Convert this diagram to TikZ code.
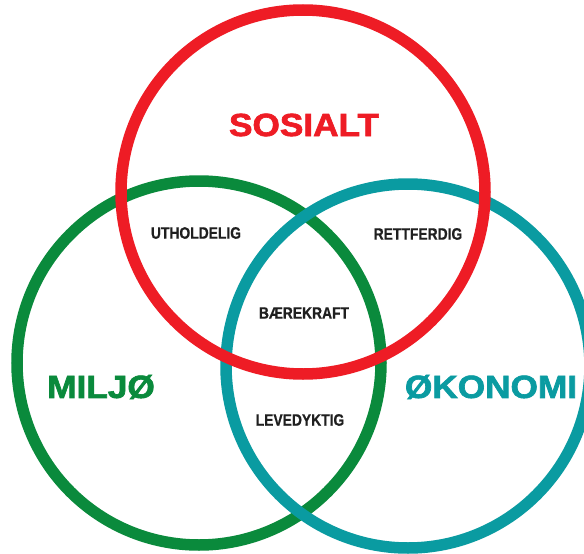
\documentclass[tikz,border=0pt]{standalone}
\usepackage{fontspec}
\setmainfont{Liberation Sans}
\newfontfamily\heavyfont[FakeBold=2]{Liberation Sans Bold}
\newfontfamily\semiheavyfont[FakeBold=0.8]{Liberation Sans Bold}
\definecolor{vred}{HTML}{EE1C25}
\definecolor{vgreen}{HTML}{0A8A3C}
\definecolor{vteal}{HTML}{0A9BA1}
\begin{document}
\begin{tikzpicture}[x=1pt,y=-1pt,
  ring/.style={line width=11.5pt},
  bigtxt/.style={font=\fontsize{32}{32}\heavyfont, inner sep=0pt, xscale=1.1},
  smalltxt/.style={font=\fontsize{16.5}{16.5}\semiheavyfont, text=black!88, inner sep=0pt, xscale=0.84}]
\useasboundingbox (0,0) rectangle (584,554);
\fill[white] (0,0) rectangle (584,554);
\coordinate (cg) at (199,363);
\coordinate (ct) at (408,366);
\coordinate (cr) at (303,192);
\draw[ring, vgreen] (cg) circle[radius=182];
\draw[ring, vteal] (ct) circle[radius=182];
\draw[ring, vred] (cr) circle[radius=182];
\node[bigtxt, text=vred] (sos) at (304,125) {SOSIALT};
\node[bigtxt, text=vgreen] (mil) at (101,387) {MILJØ};
\node[bigtxt, text=vteal] (oko) at (491,387) {ØKONOMI};
\node[smalltxt] (uth) at (196,233) {UTHOLDELIG};
\node[smalltxt] (ret) at (418,234) {RETTFERDIG};
\node[smalltxt] (bae) at (304,313) {BÆREKRAFT};
\node[smalltxt] (lev) at (300,420) {LEVEDYKTIG};
\end{tikzpicture}
\end{document}
